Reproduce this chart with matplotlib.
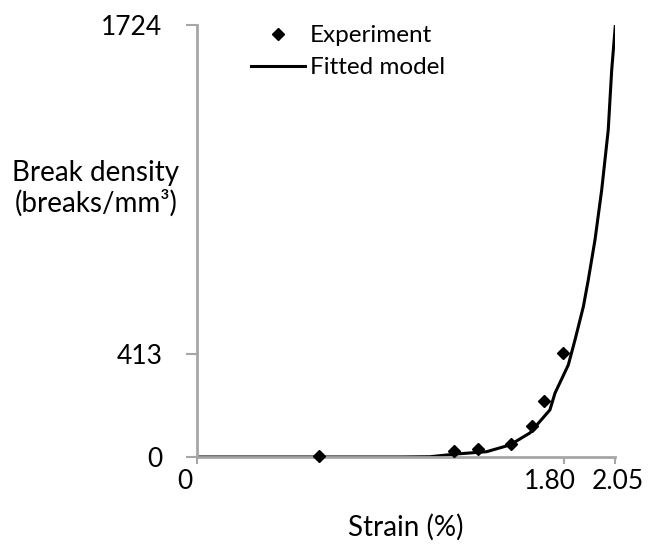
import numpy as np
import matplotlib.pyplot as plt
from matplotlib.transforms import ScaledTranslation

plt.rcParams['font.family'] = ['Lato', 'DejaVu Sans']

# 実験値
exp_x = [0.60, 1.26, 1.378, 1.54, 1.642, 1.702, 1.797]
exp_y = [2, 25, 30, 50, 125, 223, 416]

# フィットしたモデル
fit_x = [0.0, 0.5, 1.0, 1.143, 1.273, 1.42, 1.535, 1.633, 1.731, 1.756, 1.821,
         1.854, 1.895, 1.919, 1.952, 1.985, 2.017, 2.034, 2.052]
fit_y = [0, 0, 0, 1, 12, 21, 48, 96, 188, 255, 367,
         467, 600, 706, 866, 1066, 1305, 1544, 1724]

xticks = [0, 1.80, 2.05]
xticklabels = ['0', '1.80', '2.05']
yticks = [0, 413, 1724]

fig = plt.figure(figsize=(6.48, 5.45), dpi=100)
ax = fig.add_axes([0.304, 0.1615, 0.645, 0.7925])

ax.plot(fit_x, fit_y, color='black', lw=2.2, label='Fitted model', zorder=2)
ax.plot(exp_x, exp_y, 'D', color='black', ms=6, label='Experiment', zorder=3, clip_on=False)

ax.set_xlim(0, 2.05)
ax.set_ylim(0, 1724)
ax.set_xticks(xticks)
ax.set_xticklabels(xticklabels)
ax.set_yticks(yticks)

grey = '#a6a6a6'
for s in ['top', 'right']:
    ax.spines[s].set_visible(False)
for s in ['left', 'bottom']:
    ax.spines[s].set_color(grey)
    ax.spines[s].set_linewidth(2)
ax.tick_params(axis='y', colors=grey, width=1.5, length=8, labelsize=19,
               labelcolor='black', pad=17)
ax.tick_params(axis='x', colors=grey, width=1.5, length=5, labelsize=19,
               labelcolor='black', pad=4)

# x目盛りラベルを少しずらす (Excel風)
shifts = [-12, -14, 3]
for lab, dx in zip(ax.get_xticklabels(), shifts):
    lab.set_transform(lab.get_transform() + ScaledTranslation(dx / 100, 0, fig.dpi_scale_trans))

ax.set_xlabel('Strain (%)', fontsize=20, labelpad=14)
fig.text(0.148, 0.655, 'Break density\n(breaks/mm³)', fontsize=20,
         ha='center', va='center', linespacing=1.15)

h, l = ax.get_legend_handles_labels()
ax.legend(h[::-1], l[::-1], loc='upper left', bbox_to_anchor=(0.13, 1.0),
          frameon=False, fontsize=17.5, handlelength=2.2, handletextpad=0.2,
          labelspacing=0.45, borderpad=0, borderaxespad=0)

fig.savefig('out.png', dpi=100)
